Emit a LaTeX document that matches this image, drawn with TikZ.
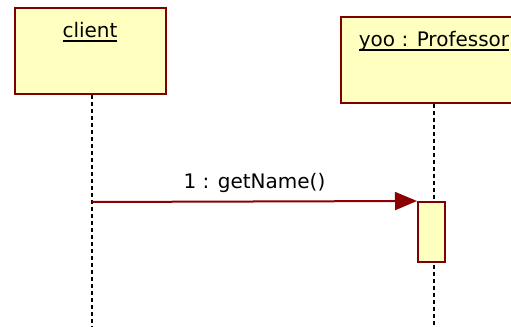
\documentclass[tikz,border=0pt]{standalone}
\usepackage{fontspec}
\setmainfont{DejaVu Sans}
\usepackage{xcolor}
\definecolor{ObjBorder}{HTML}{800000}
\definecolor{ObjFill}{HTML}{FFFFC0}
\definecolor{MsgLine}{HTML}{8B0000}
\usetikzlibrary{arrows.meta, positioning, calc}

% underlined object name, rule at a fixed depth
\newcommand{\objname}[1]{\setbox0\hbox{#1}\rlap{\rule[-3.3pt]{\wd0}{1.5pt}}\box0}

\begin{document}
\begin{tikzpicture}[x=0.75pt, y=-0.75pt,
  obj/.style={rectangle, draw=ObjBorder, fill=ObjFill, line width=1.5pt,
              minimum height=64.5pt},
  objlbl/.style={inner sep=0pt, anchor=base, font=\fontsize{15}{18}\selectfont},
  act/.style={rectangle, draw=ObjBorder, fill=ObjFill, line width=1.5pt,
              minimum width=20.25pt, minimum height=45pt},
  life/.style={line width=1.5pt, dash pattern=on 3pt off 2.25pt},
  msg/.style={-{Triangle[length=16.5pt, width=13.5pt]}, line width=1.5pt, color=MsgLine},
  msglbl/.style={inner sep=0pt, anchor=base, yshift=9.75pt, text=black,
                 font=\fontsize{15}{18}\selectfont}
]
\useasboundingbox (0,0) rectangle (511,327);
\clip (0,0) rectangle (511,327);

%% ---- Objects ----
\node[obj, minimum width=113.25pt] (client) at (90,51) {};
\node[obj, minimum width=139.5pt]  (prof)   at (434,60) {};
\node[objlbl] (clientname) at ($(client.north)+(0,31)$) {\objname{client}};
\node[objlbl] (profname)   at ($(prof.north)+(0,30.5)$) {\objname{yoo : Professor}};

%% ---- Lifelines ----
\coordinate (clientend) at (92,327);
\coordinate (profend)   at (434,327);
\draw[life] (client.south -| clientend) -- (clientend);
\draw[life] (prof.south) -- (profend);

%% ---- Activation ----
\node[act] (act) at (431.5,232) {};

%% ---- Message ----
\coordinate (msgstart) at (92,202);
\draw[msg] (msgstart) -- node[msglbl, midway]{1 : getName()} (act.north west);

\end{tikzpicture}
\end{document}
